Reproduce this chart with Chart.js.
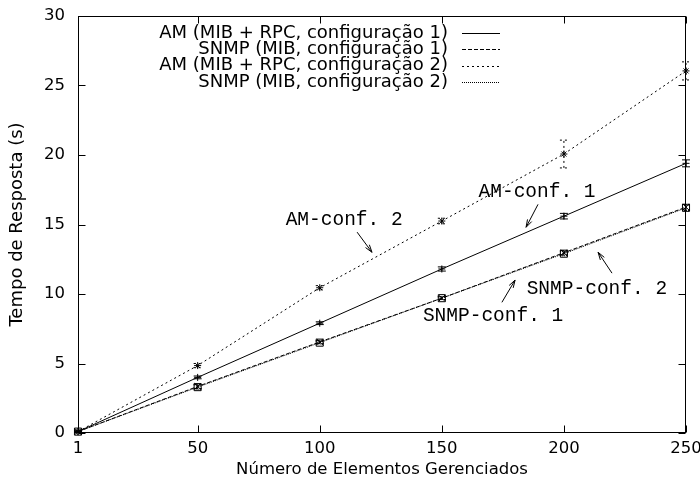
<!DOCTYPE html>
<html>
<head>
<meta charset="utf-8">
<script src="https://cdn.jsdelivr.net/npm/chart.js@4"></script>
<style>
    body { margin: 0; background: #fff; }
    #wrap { width: 700px; height: 495px; }
</style>
</head>
<body>
<div id="wrap"><canvas id="chart"></canvas></div>
<script>
const elementos = [1, 50, 100, 150, 200, 250];
const xTicks = [1, 50, 100, 150, 200, 250];
const amConf1 = [0.1, 4.0, 7.9, 11.8, 15.6, 19.4];
const amConf1Err = [0.05, 0.1, 0.1, 0.15, 0.2, 0.25];
const snmpConf1 = [0.1, 3.35, 6.55, 9.7, 12.97, 16.25];
const snmpConf1Err = [0.05, 0.15, 0.1, 0.1, 0.15, 0.2];
const amConf2 = [0.1, 4.85, 10.45, 15.25, 20.07, 26.05];
const amConf2Err = [0.05, 0.15, 0.15, 0.2, 1.0, 0.65];
const snmpConf2 = [0.1, 3.3, 6.5, 9.7, 12.9, 16.2];
const snmpConf2Err = [0.05, 0.15, 0.1, 0.1, 0.15, 0.2];
const seriesLabels = [
    'AM (MIB + RPC, configuração 1)',
    'SNMP (MIB, configuração 1)',
    'AM (MIB + RPC, configuração 2)',
    'SNMP (MIB, configuração 2)'
];

// texto das setas, em coordenadas de dados
const notas = [
    { text: 'AM-conf. 2', at: [110, 15.3], from: [115.3, 14.45], to: [121.4, 13.0] },
    { text: 'AM-conf. 1', at: [189, 17.35], from: [189.4, 16.45], to: [184.5, 14.8] },
    { text: 'SNMP-conf. 2', at: [213.5, 10.4], from: [219.7, 11.5], to: [214.0, 13.0] },
    { text: 'SNMP-conf. 1', at: [171, 8.4], from: [174.6, 9.4], to: [180.0, 11.0] }
];

const sans = 'DejaVu Sans';
const mono = 'Liberation Mono';

function pts(ys) {
    return elementos.map((x, i) => ({ x: x, y: ys[i] }));
}

function serie(label, ys, errs, dash, style, radius) {
    return {
        label: label,
        data: pts(ys),
        errors: errs,
        borderColor: '#000',
        backgroundColor: 'transparent',
        borderWidth: 1,
        borderDash: dash,
        pointStyle: style,
        pointRadius: radius,
        pointBorderColor: '#000',
        pointBackgroundColor: 'transparent',
        pointBorderWidth: 1,
        tension: 0,
        fill: false,
        clip: false
    };
}

const gnuplotStyle = {
    id: 'gnuplotStyle',
    afterDatasetsDraw(chart) {
        const ctx = chart.ctx;
        const xs = chart.scales.x;
        const ys = chart.scales.y;
        const a = chart.chartArea;
        ctx.save();
        ctx.strokeStyle = '#000';
        ctx.lineWidth = 1;

        // barras de erro
        chart.data.datasets.forEach(ds => {
            ctx.setLineDash(ds.borderDash || []);
            ds.data.forEach((p, i) => {
                const x = xs.getPixelForValue(p.x);
                const y1 = ys.getPixelForValue(p.y - ds.errors[i]);
                const y2 = ys.getPixelForValue(p.y + ds.errors[i]);
                ctx.beginPath();
                ctx.moveTo(x, y1); ctx.lineTo(x, y2);
                ctx.moveTo(x - 4, y1); ctx.lineTo(x + 4, y1);
                ctx.moveTo(x - 4, y2); ctx.lineTo(x + 4, y2);
                ctx.stroke();
            });
        });
        ctx.setLineDash([]);

        // moldura e marcas para dentro
        const L = Math.round(a.left) + 0.5, R = Math.round(a.right) - 0.5;
        const T = Math.round(a.top) + 0.5, B = Math.round(a.bottom) - 0.5;
        ctx.strokeRect(L, T, R - L, B - T);
        ctx.beginPath();
        xTicks.forEach(v => {
            const x = Math.round(xs.getPixelForValue(v)) + 0.5;
            ctx.moveTo(x, B); ctx.lineTo(x, B - 7);
            ctx.moveTo(x, T); ctx.lineTo(x, T + 7);
        });
        ys.ticks.forEach(t => {
            const y = Math.round(ys.getPixelForValue(t.value)) + 0.5;
            ctx.moveTo(L, y); ctx.lineTo(L + 7, y);
            ctx.moveTo(R, y); ctx.lineTo(R - 7, y);
        });
        ctx.stroke();

        // legenda
        ctx.font = '18px "' + sans + '"';
        ctx.fillStyle = '#000';
        ctx.textAlign = 'right';
        ctx.textBaseline = 'middle';
        chart.data.datasets.forEach((ds, i) => {
            const y = 33 + i * 16.3;
            ctx.fillText(ds.label, 448, y);
            ctx.setLineDash(ds.borderDash || []);
            ctx.beginPath();
            ctx.moveTo(462, Math.round(y) + 0.5);
            ctx.lineTo(500, Math.round(y) + 0.5);
            ctx.stroke();
        });
        ctx.setLineDash([]);

        // notas com setas
        ctx.font = '19.5px "' + mono + '"';
        ctx.textAlign = 'center';
        notas.forEach(n => {
            ctx.fillText(n.text, xs.getPixelForValue(n.at[0]), ys.getPixelForValue(n.at[1]));
            const x1 = xs.getPixelForValue(n.from[0]), y1 = ys.getPixelForValue(n.from[1]);
            const x2 = xs.getPixelForValue(n.to[0]), y2 = ys.getPixelForValue(n.to[1]);
            const ang = Math.atan2(y2 - y1, x2 - x1);
            ctx.beginPath();
            ctx.moveTo(x1, y1); ctx.lineTo(x2, y2);
            ctx.moveTo(x2 - 8 * Math.cos(ang - 0.3), y2 - 8 * Math.sin(ang - 0.3));
            ctx.lineTo(x2, y2);
            ctx.lineTo(x2 - 8 * Math.cos(ang + 0.3), y2 - 8 * Math.sin(ang + 0.3));
            ctx.stroke();
        });
        ctx.restore();
    }
};

new Chart(document.getElementById('chart'), {
    type: 'line',
    data: {
        datasets: [
            serie(seriesLabels[0], amConf1, amConf1Err, [], 'cross', 3.5),
            serie(seriesLabels[1], snmpConf1, snmpConf1Err, [4, 2], 'crossRot', 4.5),
            serie(seriesLabels[2], amConf2, amConf2Err, [2, 3], 'star', 3.5),
            serie(seriesLabels[3], snmpConf2, snmpConf2Err, [1, 1], 'rect', 5)
        ]
    },
    options: {
        responsive: true,
        maintainAspectRatio: false,
        animation: false,
        layout: { padding: { top: 16, right: 14, left: 0, bottom: 0 } },
        plugins: {
            legend: { display: false },
            tooltip: { enabled: false }
        },
        scales: {
            x: {
                type: 'linear',
                min: 1,
                max: 250,
                afterBuildTicks: s => { s.ticks = xTicks.map(v => ({ value: v })); },
                afterFit: s => { s.height = 62; s.paddingLeft = 0; s.paddingRight = 0; },
                grid: { display: false, drawTicks: false },
                border: { display: false },
                ticks: {
                    padding: 6,
                    color: '#000',
                    autoSkip: false,
                    maxRotation: 0,
                    font: { family: sans, size: 16.5 }
                },
                title: {
                    display: true,
                    text: 'Número de Elementos Gerenciados',
                    color: '#000',
                    font: { family: sans, size: 16.5 },
                    padding: { top: 0, bottom: 15 }
                }
            },
            y: {
                min: 0,
                max: 30,
                afterFit: s => { s.width = 78; s.paddingTop = 0; s.paddingBottom = 0; },
                grid: { display: false, drawTicks: false },
                border: { display: false },
                ticks: {
                    stepSize: 5,
                    padding: 13,
                    color: '#000',
                    font: { family: sans, size: 16.5 }
                },
                title: {
                    display: true,
                    text: 'Tempo de Resposta (s)',
                    color: '#000',
                    font: { family: sans, size: 18 },
                    padding: { top: 7, bottom: 0 }
                }
            }
        }
    },
    plugins: [gnuplotStyle]
});
</script>
</body>
</html>
